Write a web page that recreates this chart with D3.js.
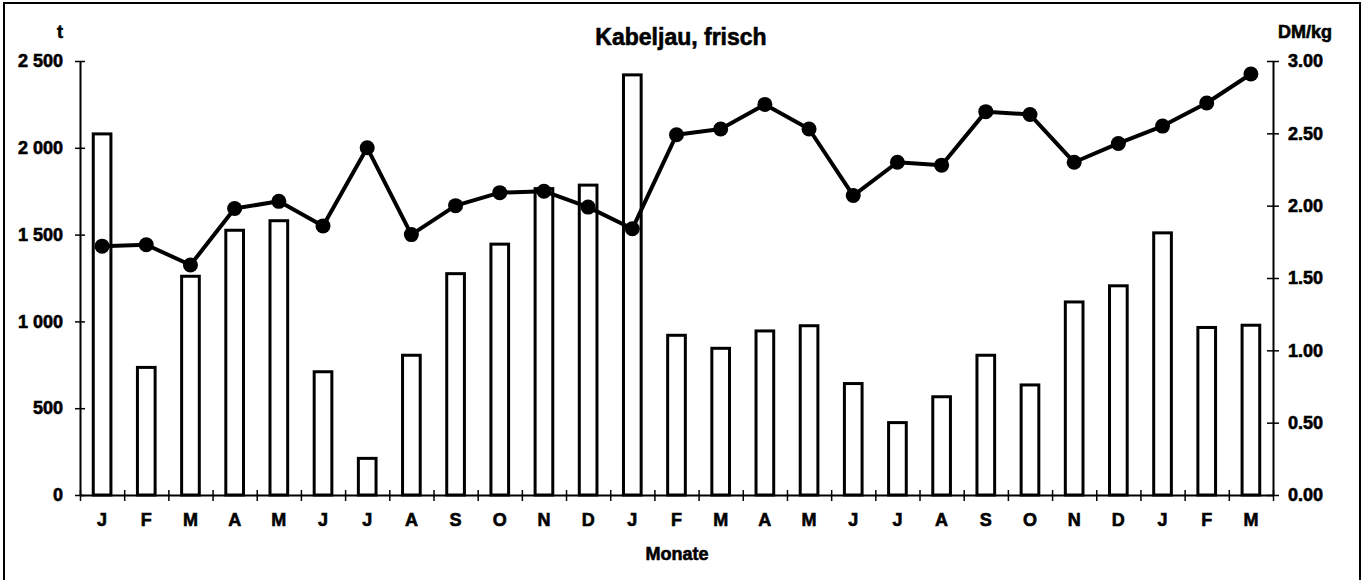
<!DOCTYPE html>
<html>
<head lang="de">
  <title>Kabeljau, frisch</title>
  <script src="https://d3js.org/d3.v7.min.js" charset="utf-8"></script>
  <style>
    body { margin: 0; background: #fff; }
    text { font-family: "Liberation Sans", Arial, sans-serif; font-weight: bold; fill: #000;
           stroke: #000; stroke-width: 0.6px; }
  </style>
</head>
<body>
  <script>

    // data: monthly landings (t) and price (DM/kg)
    var months = ["J","F","M","A","M","J","J","A","S","O","N","D",
                  "J","F","M","A","M","J","J","A","S","O","N","D",
                  "J","F","M"];
    var tonnes = [2080, 735, 1260, 1525, 1580, 710, 211, 805, 1275, 1445, 1765, 1785,
                  2420, 920, 845, 945, 975, 642, 417, 566, 805, 634, 1112, 1205,
                  1510, 965, 978];
    var price = [1.72, 1.73, 1.59, 1.98, 2.03, 1.86, 2.40, 1.80, 2.00, 2.09, 2.10, 1.99,
                 1.84, 2.49, 2.53, 2.70, 2.53, 2.07, 2.30, 2.28, 2.65, 2.63, 2.30, 2.43,
                 2.55, 2.71, 2.91];
    var leftTicks = [0, 500, 1000, 1500, 2000, 2500];
    var rightTicks = [0, 0.5, 1, 1.5, 2, 2.5, 3];

    var width = 1367;
    var height = 580;
    var plotLeft = 80, plotRight = 1273, plotTop = 61, plotBottom = 495;

    var svg = d3.select("body")
      .append("svg")
      .attr("width", width)
      .attr("height", height);

    // outer frame
    svg.append("rect")
      .attr("x", 4).attr("y", 3)
      .attr("width", 1356).attr("height", 600)
      .attr("fill", "none")
      .attr("stroke", "#000")
      .attr("stroke-width", 2);

    var x = d3.scaleBand()
      .domain(d3.range(months.length))
      .range([plotLeft, plotRight]);

    var xEdge = d3.scaleLinear()
      .domain([0, months.length])
      .range([plotLeft, plotRight]);

    var yL = d3.scaleLinear().domain([0, 2500]).range([plotBottom, plotTop]);
    var yR = d3.scaleLinear().domain([0, 3]).range([plotBottom, plotTop]);

    // bars
    var bw = x.bandwidth() * 0.4;
    svg.append("g")
      .selectAll("rect")
      .data(tonnes)
      .enter().append("rect")
        .attr("x", function(d, i) { return x(i) + x.bandwidth() / 2 - bw / 2; })
        .attr("y", function(d) { return yL(d); })
        .attr("width", bw)
        .attr("height", function(d) { return yL(0) - yL(d); })
        .attr("fill", "#fff")
        .attr("stroke", "#000")
        .attr("stroke-width", 3);

    // axes
    var fmt = function(d) { return d3.format(",")(d).replace(",", " "); };

    var gl = svg.append("g")
      .attr("transform", "translate(" + plotLeft + ",0)")
      .call(d3.axisLeft(yL).tickValues(leftTicks).tickFormat(fmt)
        .tickSizeInner(5).tickSizeOuter(0).tickPadding(12));
    gl.selectAll(".tick line").attr("x1", 5);

    var gr = svg.append("g")
      .attr("transform", "translate(" + plotRight + ",0)")
      .call(d3.axisRight(yR).tickValues(rightTicks).tickFormat(d3.format(".2f"))
        .tickSizeInner(6).tickSizeOuter(0).tickPadding(9));
    gr.selectAll(".tick line").attr("x1", -6);

    var gb = svg.append("g")
      .attr("transform", "translate(0," + plotBottom + ")")
      .call(d3.axisBottom(xEdge).tickValues(d3.range(months.length + 1))
        .tickFormat("").tickSizeInner(6).tickSizeOuter(0));
    gb.selectAll(".tick line").attr("y1", -5);

    var gm = svg.append("g")
      .attr("transform", "translate(0," + plotBottom + ")")
      .call(d3.axisBottom(x).tickFormat(function(i) { return months[i]; })
        .tickSize(0).tickPadding(18));
    gm.select(".domain").remove();

    svg.selectAll(".domain").attr("stroke-width", 2);
    svg.selectAll(".tick line").attr("stroke-width", 1.5);
    svg.selectAll(".tick text")
      .attr("font-family", "'Liberation Sans', Arial, sans-serif")
      .attr("font-weight", "bold")
      .attr("font-size", "18px")
      .attr("fill", "#000");

    // price line
    var line = d3.line()
      .x(function(d, i) { return x(i) + x.bandwidth() / 2; })
      .y(function(d) { return yR(d); });

    svg.append("path")
      .datum(price)
      .attr("d", line)
      .attr("fill", "none")
      .attr("stroke", "#000")
      .attr("stroke-width", 4)
      .attr("stroke-linejoin", "round");

    svg.append("g")
      .selectAll("circle")
      .data(price)
      .enter().append("circle")
        .attr("cx", function(d, i) { return x(i) + x.bandwidth() / 2; })
        .attr("cy", function(d) { return yR(d); })
        .attr("r", 7.5)
        .attr("fill", "#000");

    // titles
    svg.append("text")
      .attr("x", 681).attr("y", 45)
      .attr("text-anchor", "middle")
      .attr("font-size", "23px")
      .text("Kabeljau, frisch");

    svg.append("text")
      .attr("x", 677).attr("y", 560)
      .attr("text-anchor", "middle")
      .attr("font-size", "18px")
      .text("Monate");

    svg.append("text")
      .attr("x", 60).attr("y", 38)
      .attr("text-anchor", "middle")
      .attr("font-size", "18px")
      .text("t");

    svg.append("text")
      .attr("x", 1305).attr("y", 38)
      .attr("text-anchor", "middle")
      .attr("font-size", "18px")
      .text("DM/kg");

  </script>
</body>
</html>
